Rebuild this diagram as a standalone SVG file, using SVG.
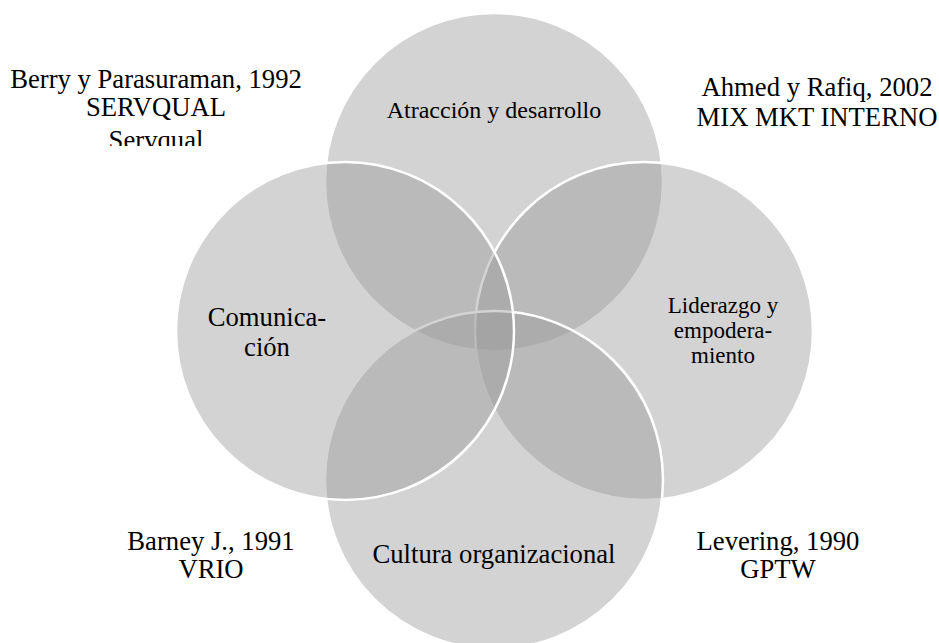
<svg xmlns="http://www.w3.org/2000/svg" width="939" height="643" viewBox="0 0 939 643">
<style>
.c{fill:#999999;fill-opacity:0.43;stroke:#ffffff;stroke-width:2.5}
.t{font-family:"Liberation Serif","Times New Roman",serif;font-size:26.67px;fill:#000;text-anchor:middle}
.s{font-size:24px}
.m{font-size:23px}
</style>
<defs>
<clipPath id="clipTL"><rect x="0" y="0" width="330" height="146"/></clipPath>
</defs>
<rect width="939" height="643" fill="#ffffff"/>
<g id="node-top"><circle class="c" cx="494" cy="182" r="169"/></g>
<g id="node-right"><circle class="c" cx="644" cy="331" r="169"/></g>
<g id="node-bottom"><circle class="c" cx="494" cy="480" r="169"/></g>
<g id="node-left"><circle class="c" cx="345" cy="331" r="169"/></g>
<g id="connectors"></g>
<g id="labels">
<text class="t s" x="494" y="118">Atracción y desarrollo</text>
<text class="t" x="267" y="326">Comunica-</text>
<text class="t" x="267" y="356">ción</text>
<text class="t m" x="723" y="313">Liderazgo y</text>
<text class="t m" x="723" y="338">empodera-</text>
<text class="t m" x="723" y="363">miento</text>
<text class="t" x="494" y="563">Cultura organizacional</text>
</g>
<g id="refs">
<g clip-path="url(#clipTL)">
<text class="t" x="156" y="88">Berry y Parasuraman, 1992</text>
<text class="t" x="156" y="116">SERVQUAL</text>
<text class="t" x="156" y="149">Servqual</text>
</g>
<text class="t" x="817" y="96">Ahmed y Rafiq, 2002</text>
<text class="t" x="817" y="126">MIX MKT INTERNO</text>
<text class="t" x="211" y="550">Barney J., 1991</text>
<text class="t" x="211" y="578">VRIO</text>
<text class="t" x="778" y="550">Levering, 1990</text>
<text class="t" x="778" y="578">GPTW</text>
</g>
</svg>
